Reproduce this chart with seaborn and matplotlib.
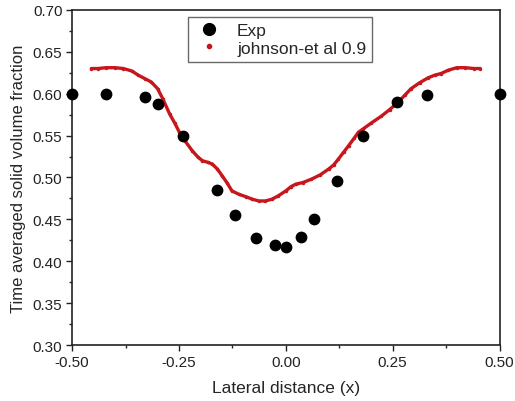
import numpy as np
import pandas as pd
import matplotlib
matplotlib.use("Agg")
import matplotlib.pyplot as plt
import seaborn as sns
from matplotlib.lines import Line2D
from matplotlib.ticker import MultipleLocator

# experimental points
exp_x = [-0.50, -0.42, -0.33, -0.30, -0.24, -0.16, -0.12, -0.07, -0.025, 0.0,
         0.035, 0.067, 0.12, 0.18, 0.26, 0.33, 0.50]
exp_y = [0.600, 0.600, 0.596, 0.588, 0.550, 0.485, 0.455, 0.428, 0.419, 0.417,
         0.429, 0.451, 0.496, 0.550, 0.590, 0.598, 0.600]

# simulation curve (johnson-et al 0.9)
sim_x = [-0.455, -0.44, -0.42, -0.40, -0.38, -0.36, -0.345, -0.33, -0.315, -0.30,
         -0.288, -0.272, -0.26, -0.249, -0.235, -0.219, -0.205, -0.195, -0.182, -0.172,
         -0.16, -0.149, -0.138, -0.126, -0.11, -0.093, -0.078, -0.063, -0.048, -0.033,
         -0.018, 0.0, 0.012, 0.023, 0.04, 0.06, 0.08, 0.10, 0.112, 0.123,
         0.135, 0.147, 0.16, 0.17, 0.181, 0.20, 0.223, 0.243, 0.263, 0.278,
         0.293, 0.313, 0.333, 0.348, 0.363, 0.38, 0.40, 0.42, 0.44, 0.455]
sim_y = [0.630, 0.630, 0.631, 0.631, 0.630, 0.627, 0.622, 0.618, 0.614, 0.606,
         0.594, 0.576, 0.565, 0.554, 0.543, 0.532, 0.524, 0.520, 0.518, 0.516,
         0.510, 0.502, 0.494, 0.484, 0.480, 0.477, 0.474, 0.472, 0.472, 0.474,
         0.478, 0.484, 0.489, 0.492, 0.494, 0.498, 0.503, 0.510, 0.515, 0.522,
         0.530, 0.538, 0.547, 0.554, 0.558, 0.565, 0.573, 0.581, 0.590, 0.598,
         0.606, 0.613, 0.619, 0.622, 0.624, 0.628, 0.631, 0.631, 0.630, 0.630]

x_ticks = [-0.50, -0.25, 0.00, 0.25, 0.50]
x_labels = ["-0.50", "-0.25", "0.00", "0.25", "0.50"]
y_ticks = [0.30, 0.35, 0.40, 0.45, 0.50, 0.55, 0.60, 0.65, 0.70]

sns.set_style("ticks")
plt.rcParams['font.family'] = ['Liberation Sans', 'DejaVu Sans']

exp_df = pd.DataFrame({"x": exp_x, "y": exp_y})
sim_df = pd.DataFrame({"x": sim_x, "y": sim_y})

fig = plt.figure(figsize=(5.15, 4.02), dpi=100)
ax = fig.add_axes([0.140, 0.139, 0.830, 0.834])

red = "#c8161d"
sns.lineplot(data=sim_df, x="x", y="y", ax=ax, color=red, lw=2.4, sort=False,
             marker="o", markersize=2.5, markeredgewidth=0, zorder=2)
sns.scatterplot(data=exp_df, x="x", y="y", ax=ax, color="black", s=72,
                edgecolor="black", linewidth=0, zorder=3, clip_on=False)

ax.set_xlim(-0.5, 0.5)
ax.set_ylim(0.30, 0.70)
ax.set_xticks(x_ticks)
ax.set_xticklabels(x_labels)
ax.set_yticks(y_ticks)
ax.set_yticklabels([f"{v:.2f}" for v in y_ticks])
ax.xaxis.set_minor_locator(MultipleLocator(0.125))
ax.yaxis.set_minor_locator(MultipleLocator(0.025))
ax.tick_params(which="major", direction="out", length=4, width=1, labelsize=11,
               colors="#222222", pad=3)
ax.tick_params(which="minor", direction="out", length=2.5, width=1)
ax.tick_params(top=False, right=False)

for side in ["left", "bottom", "top", "right"]:
    ax.spines[side].set_visible(True)
    ax.spines[side].set_linewidth(1.2)
    ax.spines[side].set_color("#222222")

ax.set_xlabel("Lateral distance (x)", fontsize=12.5, labelpad=8)
ax.set_ylabel("Time averaged solid volume fraction", fontsize=12, labelpad=5)

handles = [
    Line2D([], [], linestyle="none", marker="o", markersize=8.5, color="black"),
    Line2D([], [], linestyle="none", marker="o", markersize=3, color=red),
]
leg = ax.legend(handles, ["Exp", "johnson-et al 0.9"], loc="upper left",
                bbox_to_anchor=(0.27, 0.98), frameon=True, fancybox=False,
                fontsize=12.5, handletextpad=0.7, handlelength=1.8,
                borderpad=0.35, labelspacing=0.15, borderaxespad=0)
leg.get_frame().set_edgecolor("#444444")
leg.get_frame().set_linewidth(1.0)

fig.savefig("out.png", dpi=100)
